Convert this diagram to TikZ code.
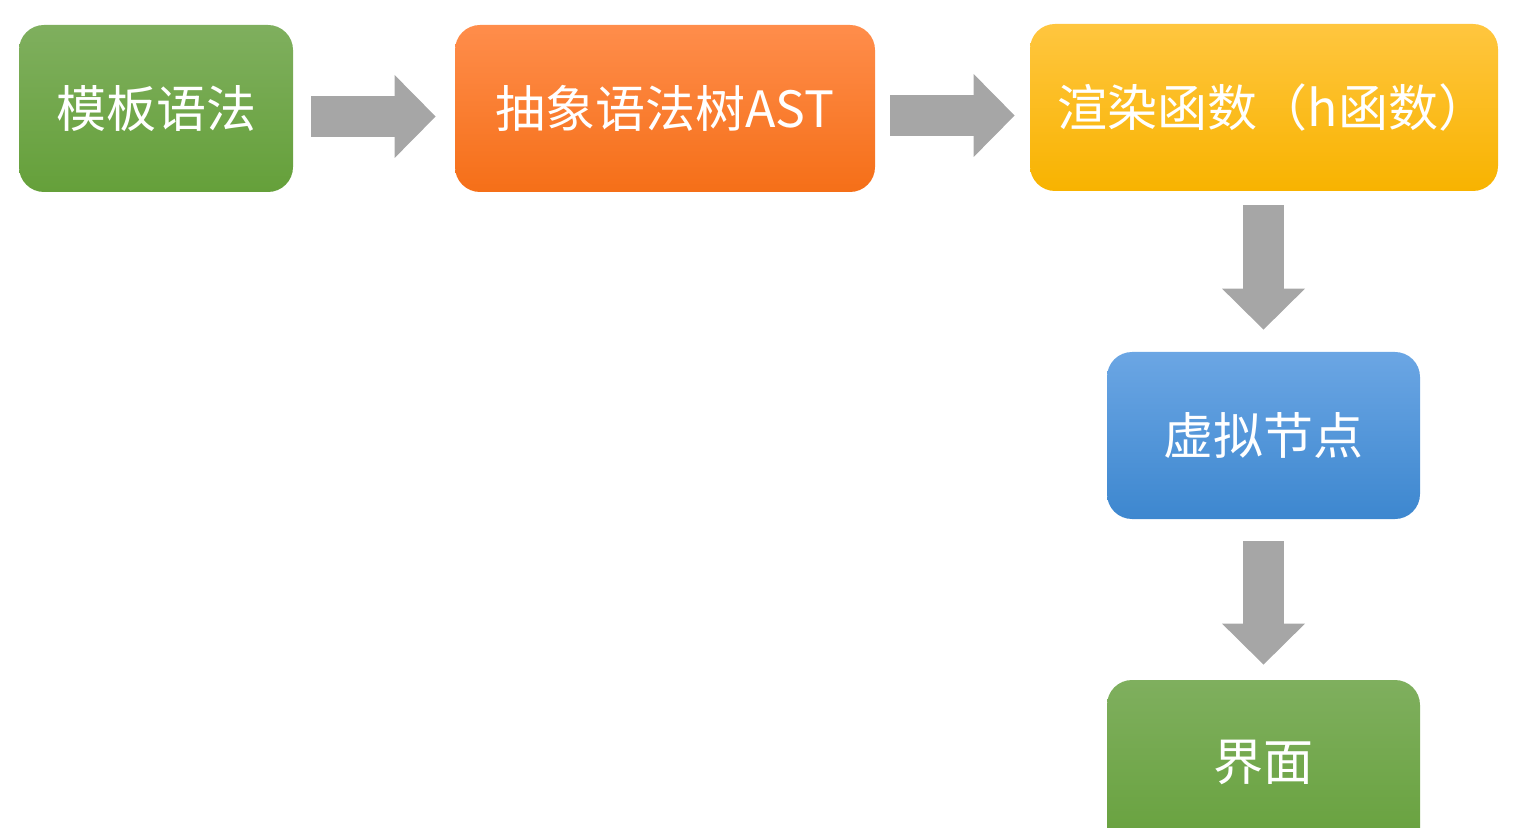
\documentclass[tikz,border=0pt]{standalone}
\usepackage{fontspec}
\newfontfamily\cjk{Noto Sans CJK SC}
\usetikzlibrary{positioning,arrows.meta}
\definecolor{arrowgray}{HTML}{A6A6A6}
\definecolor{greentop}{HTML}{7FAF5E}
\definecolor{greenbot}{HTML}{65A03A}
\definecolor{orangetop}{HTML}{FF8D4B}
\definecolor{orangebot}{HTML}{F56F18}
\definecolor{yellowtop}{HTML}{FFC63F}
\definecolor{yellowbot}{HTML}{F8B300}
\definecolor{bluetop}{HTML}{6BA6E4}
\definecolor{bluebot}{HTML}{3D87CF}
\tikzset{
  stepbox/.style={rounded corners=12.5pt, minimum height=83.5pt, text=white,
    font=\cjk\fontsize{25}{30}\selectfont, inner sep=0pt},
  greenbox/.style={stepbox, top color=greentop, bottom color=greenbot},
  orangebox/.style={stepbox, top color=orangetop, bottom color=orangebot},
  yellowbox/.style={stepbox, top color=yellowtop, bottom color=yellowbot},
  bluebox/.style={stepbox, top color=bluetop, bottom color=bluebot},
  fatarrow/.style={draw=arrowgray, line width=20.5pt,
    -{Triangle[width=41.5pt,length=20.5pt,line width=0pt,fill=arrowgray]}}
}
\begin{document}
\begin{tikzpicture}[x=0.5pt,y=-0.5pt]
        \useasboundingbox (0,0) rectangle (1519,828);
        \node[greenbox, minimum width=137pt] (tpl) at (156,108.5) {模板语法};
        \node[orangebox, minimum width=210pt] (ast) at (665,108.5) {抽象语法树AST};
        \node[yellowbox, minimum width=234pt] (render) at (1264,107.5) {\hspace*{9pt}渲染函数（h函数）};
        \node[bluebox, minimum width=156.5pt] (vnode) at (1263.5,435.5) {虚拟节点};
        % last box runs past the bottom edge
        \node[greenbox, minimum width=156.5pt, minimum height=92pt] (ui) at (1263.5,772) {\raisebox{12pt}{界面}};
        \draw[fatarrow, shorten <=9pt, shorten >=9.5pt] ([yshift=-4pt]tpl.east) -- ([yshift=-4pt]ast.west);
        \draw[fatarrow, shorten <=7.5pt, shorten >=7.5pt] ([yshift=-3.5pt]ast.east) -- ([yshift=-3.5pt]render.west |- ast.east);
        \draw[fatarrow, shorten <=7pt, shorten >=11pt] (render.south -| vnode.north) -- (vnode.north);
        \draw[fatarrow, shorten <=11pt, shorten >=7.5pt] (vnode.south) -- (ui.north);
\end{tikzpicture}
\end{document}
